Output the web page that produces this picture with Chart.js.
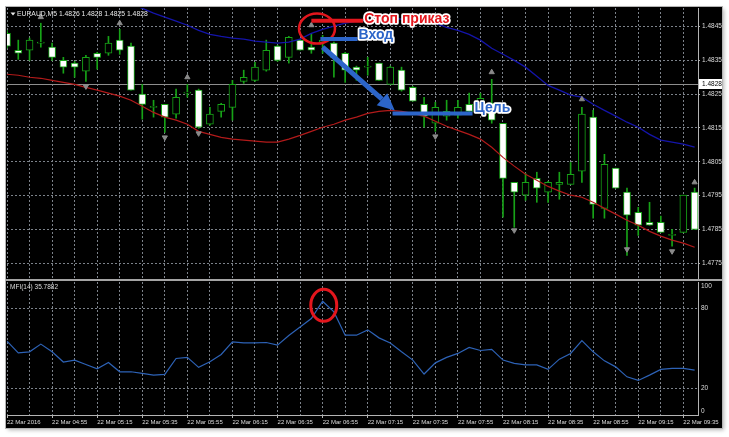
<!DOCTYPE html>
<html lang="ru">
  <head>
    <meta charset="UTF-8" />
    <title>EURAUD M5 + MFI</title>
    <script src="https://cdn.jsdelivr.net/npm/chart.js"></script>
    <style>
      body {
        margin: 0;
        width: 729px;
        height: 437px;
        background: #fff;
        position: relative;
        overflow: hidden;
      }
      .frame {
        position: absolute;
        left: 6px;
        top: 7px;
        width: 716px;
        height: 421px;
        background: #000;
        outline: 1px solid #b4b4b4;
        box-shadow: 2px 2px 4px rgba(0, 0, 0, 0.3);
      }
      .sep {
        position: absolute;
        left: 6px;
        top: 279px;
        width: 716px;
        height: 2px;
        background: #a4a4a4;
      }
      #priceChart {
        position: absolute;
        left: 7px;
        top: 8px;
      }
      #mfiChart {
        position: absolute;
        left: 7px;
        top: 282px;
      }
    </style>
  </head>
  <body>
    <div class="frame"></div>
    <div class="sep"></div>
    <canvas id="priceChart" width="715" height="271"></canvas>
    <canvas id="mfiChart" width="715" height="146"></canvas>

    <script>
      // bar 0 = 04:35, one bar every 5 minutes, a label every 4 bars
      const timeLabels = [
        "22 Mar 2016", "22 Mar 04:55", "22 Mar 05:15", "22 Mar 05:35",
        "22 Mar 05:55", "22 Mar 06:15", "22 Mar 06:35", "22 Mar 06:55",
        "22 Mar 07:15", "22 Mar 07:35", "22 Mar 07:55", "22 Mar 08:15",
        "22 Mar 08:35", "22 Mar 08:55", "22 Mar 09:15", "22 Mar 09:35",
      ];

      const opens = [
        1.4843, 1.4838, 1.4838, 1.48401, 1.48389, 1.4835, 1.48342, 1.48318, 1.48371, 1.48371,
        1.4841, 1.48392, 1.4825, 1.48211, 1.4822, 1.48191, 1.48253, 1.48262, 1.48161, 1.48199,
        1.48211, 1.48288, 1.48291, 1.48321, 1.48392, 1.48359, 1.4841, 1.48389, 1.48404, 1.48401,
        1.48371, 1.4833, 1.4833, 1.48342, 1.48279, 1.48321, 1.4827, 1.4822, 1.48164, 1.48185,
        1.48188, 1.4822, 1.48217, 1.48223, 1.48164, 1.47989, 1.47951, 1.48001, 1.4796, 1.47983,
        1.47983, 1.48022, 1.48182, 1.47912, 1.48031, 1.4796, 1.479, 1.47871, 1.47871, 1.47832,
        1.47841, 1.4796,
      ];
      const highs = [
        1.48439, 1.4841, 1.48416, 1.4846, 1.48401, 1.48359, 1.48347, 1.48365, 1.48374, 1.48421,
        1.48442, 1.48401, 1.48279, 1.48232, 1.4822, 1.48265, 1.48279, 1.48265, 1.48211, 1.48223,
        1.48291, 1.48321, 1.48344, 1.4841, 1.48395, 1.48421, 1.48413, 1.4843, 1.48424, 1.48404,
        1.48374, 1.48333, 1.48359, 1.48342, 1.48333, 1.4833, 1.48273, 1.48241, 1.48226, 1.48232,
        1.48232, 1.48253, 1.48253, 1.48294, 1.48164, 1.47989, 1.48016, 1.48019, 1.47992, 1.48019,
        1.48048, 1.48211, 1.48202, 1.48072, 1.48031, 1.47972, 1.47915, 1.4793, 1.47889, 1.4785,
        1.47951, 1.47972,
      ];
      const lows = [
        1.48386, 1.48353, 1.4835, 1.48389, 1.4835, 1.48312, 1.483, 1.48288, 1.48324, 1.48365,
        1.48368, 1.48262, 1.48176, 1.48182, 1.48137, 1.48179, 1.48241, 1.48149, 1.48158, 1.48182,
        1.48173, 1.48282, 1.48288, 1.48318, 1.48347, 1.48342, 1.4838, 1.48371, 1.48371, 1.483,
        1.48285, 1.48291, 1.48306, 1.48291, 1.48279, 1.48259, 1.48229, 1.48152, 1.4814, 1.48173,
        1.48179, 1.48196, 1.48211, 1.48164, 1.47886, 1.47856, 1.47936, 1.4793, 1.4793, 1.47939,
        1.47983, 1.47989, 1.47883, 1.47883, 1.47972, 1.47773, 1.47832, 1.47862, 1.47841, 1.478,
        1.47841, 1.4785,
      ];
      const closes = [
        1.48392, 1.48371, 1.4841, 1.48402, 1.48359, 1.4833, 1.4833, 1.48359, 1.48359, 1.48401,
        1.4838, 1.48262, 1.4822, 1.48212, 1.48182, 1.48241, 1.48254, 1.48152, 1.48191, 1.4822,
        1.48279, 1.483, 1.4833, 1.4838, 1.4835, 1.48418, 1.4838, 1.4838, 1.4841, 1.48359,
        1.48321, 1.48321, 1.48331, 1.48291, 1.4833, 1.48262, 1.48229, 1.48185, 1.48211, 1.48199,
        1.48211, 1.48199, 1.48238, 1.48173, 1.48001, 1.4796, 1.47989, 1.47972, 1.47989, 1.47989,
        1.48013, 1.48191, 1.47924, 1.48042, 1.47972, 1.47892, 1.47862, 1.47862, 1.47841, 1.47833,
        1.47951, 1.4785,
      ];

      // upper (blue) and lower (red) moving averages
      const maUpper = [
        null, null, null, null, null, null, null, null, null, null,
        1.48534, 1.48519, 1.48504, 1.4849, 1.48478, 1.48466, 1.48454, 1.48439, 1.48427, 1.48421,
        1.48416, 1.48413, 1.48407, 1.48404, 1.48401, 1.48404, 1.48413, 1.4843, 1.48442, 1.48451,
        1.4846, 1.48466, 1.48469, 1.48472, 1.48475, 1.48472, 1.48466, 1.48463, 1.4846, 1.48448,
        1.48439, 1.48427, 1.4841, 1.48386, 1.48368, 1.4835, 1.4833, 1.48303, 1.48276, 1.48262,
        1.48247, 1.48241, 1.4822, 1.48202, 1.48185, 1.48167, 1.48152, 1.48131, 1.48114, 1.48108,
        1.48102, 1.48093,
      ];
      const maLower = [
        1.48309, 1.48306, 1.483, 1.48297, 1.48291, 1.48285, 1.48279, 1.4827, 1.48262, 1.48253,
        1.48244, 1.48232, 1.48214, 1.48196, 1.48182, 1.48173, 1.48161, 1.4814, 1.48131, 1.48122,
        1.48117, 1.48114, 1.48111, 1.48108, 1.48108, 1.48117, 1.48128, 1.4814, 1.48152, 1.48161,
        1.48173, 1.48182, 1.48193, 1.48199, 1.48202, 1.48199, 1.48193, 1.48185, 1.4817, 1.48155,
        1.48143, 1.48131, 1.48117, 1.48093, 1.48063, 1.48037, 1.48013, 1.47995, 1.47977, 1.47963,
        1.47951, 1.47945, 1.4793, 1.47912, 1.47895, 1.47877, 1.47862, 1.47844, 1.4783, 1.47818,
        1.47809, 1.47797,
      ];

      const mfi = [
        55.5, 46.7, 47.5, 53.3, 47.5, 39.8, 41.3, 38.0, 34.7, 39.5,
        32.5, 32.5, 31.3, 30.0, 30.5, 42.5, 43.3, 35.8, 40.0, 45.5,
        55.0, 54.2, 54.2, 54.5, 52.5, 59.8, 66.2, 72.5, 85.5, 77.5,
        60.0, 60.0, 64.0, 58.0, 54.2, 47.5, 41.3, 30.8, 39.2, 43.3,
        46.3, 50.8, 48.5, 49.3, 41.3, 38.8, 37.7, 37.7, 34.3, 42.0,
        46.3, 56.0, 47.5, 40.7, 36.2, 28.7, 26.0, 30.0, 34.3, 35.0,
        35.0, 33.8,
      ];

      const fractalUpIdx = [3, 10, 16, 27, 43, 51, 61];
      const fractalUpVal = [1.48478, 1.4846, 1.483, 1.48454, 1.48315, 1.48235, 1.47989];
      const fractalDownIdx = [7, 14, 17, 38, 45, 55, 59];
      const fractalDownVal = [1.48273, 1.48122, 1.48134, 1.48125, 1.47847, 1.47791, 1.47785];

      const priceTicks = [1.4775, 1.4785, 1.4795, 1.4805, 1.4815, 1.4825, 1.4835, 1.4845];
      const mfiTicks = [0, 20, 80, 100];
      const priceMin = 1.47703;
      const priceMax = 1.48505;
      const xMax = 61.3;

      const symbol = "EURAUD,M5";
      const headerPrices = [1.4826, 1.4828, 1.4825, 1.4828];
      const lastPrice = 1.4828;
      const mfiTitle = "MFI(14) 35.7882";

      // trade annotations, in bar index / price units
      const stopLevel = 1.48467, stopFrom = 27.0, stopTo = 31.6;
      const entryLevel = 1.48413, entryFrom = 27.8, entryTo = 31.1;
      const targetLevel = 1.48193, targetFrom = 34.2, targetTo = 41.3;
      const arrowFrom = [28.0, 1.48389];
      const arrowTo = [34.4, 1.48202];
      const stopMark = [27.5, 1.48444];
      const mfiMark = [28.1, 82.5];

      const green = "#17a317";
      const gridColor = "#7c828a";
      const axisColor = "#b4b4b4";
      const labelColor = "#dcdcdc";
      const fontFamily = '"Liberation Sans", Arial, sans-serif';
      const red = "#e3161d";
      const blue = "#2c65c9";

      Chart.defaults.font.family = fontFamily;
      Chart.defaults.font.size = 6.5;
      Chart.defaults.color = labelColor;

      const idx = opens.map((_, i) => i);
      const gridIdx = [];
      for (let i = 0; i <= 60; i += 2) gridIdx.push(i);

      function timeAxis(showLabels) {
        return {
          type: "linear",
          min: 0,
          max: xMax,
          offset: false,
          afterBuildTicks: (s) => {
            s.ticks = gridIdx.map((v) => ({ value: v }));
          },
          ticks: {
            display: showLabels,
            autoSkip: false,
            maxRotation: 0,
            minRotation: 0,
            align: "start",
            padding: 1,
            color: labelColor,
            font: { size: 6 },
            callback: (v) => (v % 4 === 0 ? timeLabels[v / 4] : ""),
          },
          grid: {
            color: gridColor,
            offset: false,
            drawTicks: showLabels,
            tickLength: 3,
            tickColor: (c) => (c.tick && c.tick.value % 4 === 0 ? axisColor : "transparent"),
          },
          border: { display: showLabels, color: axisColor, dash: [2, 2] },
          afterFit: (s) => {
            s.paddingLeft = 0;
            s.paddingRight = 0;
            s.height = showLabels ? 13 : 0;
          },
        };
      }

      function sideAxis(extra) {
        return Object.assign(
          {
            type: "linear",
            position: "right",
            border: { display: true, color: axisColor, dash: [2, 2] },
            afterFit: (s) => {
              s.width = 24;
              s.paddingTop = 0;
              s.paddingBottom = 0;
            },
          },
          extra
        );
      }

      function textWithHalo(ctx, text, x, y, color) {
        ctx.font = "bold 14px " + fontFamily;
        ctx.textBaseline = "middle";
        ctx.lineJoin = "round";
        ctx.lineWidth = 3.5;
        ctx.strokeStyle = "#fff";
        ctx.strokeText(text, x, y);
        ctx.fillStyle = color;
        ctx.fillText(text, x, y);
      }

      function level(ctx, x1, x2, y, color) {
        ctx.strokeStyle = color;
        ctx.lineWidth = 4;
        ctx.beginPath();
        ctx.moveTo(x1, y);
        ctx.lineTo(x2, y);
        ctx.stroke();
      }

      const priceDecor = {
        id: "priceDecor",
        beforeDatasetsDraw(chart) {
          const { ctx, chartArea: a, scales } = chart;
          const py = Math.round(scales.y.getPixelForValue(lastPrice)) + 0.5;
          ctx.save();
          ctx.strokeStyle = "#8e8e8e";
          ctx.lineWidth = 1;
          ctx.beginPath();
          ctx.moveTo(a.left, py);
          ctx.lineTo(a.right, py);
          ctx.stroke();
          ctx.restore();
        },
        afterDraw(chart) {
          const { ctx, chartArea: a, scales } = chart;
          const X = (v) => scales.x.getPixelForValue(v);
          const Y = (v) => scales.y.getPixelForValue(v);
          ctx.save();

          // last price tag on the axis
          const py = Math.round(Y(lastPrice));
          ctx.fillStyle = "#fff";
          ctx.fillRect(a.right + 1, py - 5, 24, 10);
          ctx.fillStyle = "#000";
          ctx.font = "6.5px " + fontFamily;
          ctx.textBaseline = "middle";
          ctx.fillText(lastPrice.toFixed(4), a.right + 4, py + 0.5);

          // header
          ctx.fillStyle = "#e8e8e8";
          ctx.beginPath();
          ctx.moveTo(3.5, 4.5);
          ctx.lineTo(8.5, 4.5);
          ctx.lineTo(6, 7.5);
          ctx.fill();
          ctx.font = "6.8px " + fontFamily;
          ctx.fillText(symbol + " " + headerPrices.map((v) => v.toFixed(4)).join(" "), 10, 6.5);

          // stop circle
          ctx.strokeStyle = red;
          ctx.lineWidth = 2.5;
          ctx.beginPath();
          ctx.ellipse(X(stopMark[0]), Y(stopMark[1]), 18, 15, 0, 0, Math.PI * 2);
          ctx.stroke();

          // levels and labels
          level(ctx, X(stopFrom), X(stopTo), Y(stopLevel), red);
          level(ctx, X(entryFrom), X(entryTo), Y(entryLevel), blue);
          level(ctx, X(targetFrom), X(targetTo), Y(targetLevel), blue);
          textWithHalo(ctx, "Стоп приказ", X(stopTo) + 1, Y(stopLevel) - 1.5, red);
          textWithHalo(ctx, "Вход", X(entryTo) + 1, Y(entryLevel) - 4, blue);
          textWithHalo(ctx, "Цель", X(targetTo) + 2, Y(targetLevel) - 5, blue);

          // arrow entry -> target
          const x1 = X(arrowFrom[0]), y1 = Y(arrowFrom[1]);
          const x2 = X(arrowTo[0]), y2 = Y(arrowTo[1]);
          const ang = Math.atan2(y2 - y1, x2 - x1);
          const head = 17, hw = 8;
          const bx = x2 - head * Math.cos(ang), by = y2 - head * Math.sin(ang);
          ctx.strokeStyle = blue;
          ctx.lineWidth = 5;
          ctx.beginPath();
          ctx.moveTo(x1, y1);
          ctx.lineTo(bx, by);
          ctx.stroke();
          ctx.fillStyle = blue;
          ctx.beginPath();
          ctx.moveTo(x2, y2);
          ctx.lineTo(bx + hw * Math.sin(ang), by - hw * Math.cos(ang));
          ctx.lineTo(bx - hw * Math.sin(ang), by + hw * Math.cos(ang));
          ctx.closePath();
          ctx.fill();

          ctx.restore();
        },
      };

      const mfiDecor = {
        id: "mfiDecor",
        afterDraw(chart) {
          const { ctx, chartArea: a, scales } = chart;
          ctx.save();
          ctx.font = "6.5px " + fontFamily;
          ctx.fillStyle = labelColor;
          ctx.textBaseline = "middle";
          ctx.fillText(mfiTitle, 3, 5);
          mfiTicks.forEach((v) => {
            const py = Math.min(Math.max(scales.y.getPixelForValue(v), a.top + 4), a.bottom - 4);
            ctx.fillText(String(v), a.right + 3, py);
          });
          ctx.strokeStyle = red;
          ctx.lineWidth = 3;
          ctx.beginPath();
          ctx.ellipse(scales.x.getPixelForValue(mfiMark[0]), scales.y.getPixelForValue(mfiMark[1]), 13, 16, 0, 0, Math.PI * 2);
          ctx.stroke();
          ctx.restore();
        },
      };

      new Chart(document.getElementById("priceChart"), {
        type: "line",
        data: {
          datasets: [
            {
              label: "Fractals up",
              data: fractalUpIdx.map((i, k) => ({ x: i, y: fractalUpVal[k] })),
              showLine: false,
              pointStyle: "triangle",
              pointRadius: 3,
              pointBackgroundColor: "#8a8a8a",
              pointBorderColor: "#8a8a8a",
              order: 0,
            },
            {
              label: "Fractals down",
              data: fractalDownIdx.map((i, k) => ({ x: i, y: fractalDownVal[k] })),
              showLine: false,
              pointStyle: "triangle",
              pointRotation: 180,
              pointRadius: 3,
              pointBackgroundColor: "#8a8a8a",
              pointBorderColor: "#8a8a8a",
              order: 0,
            },
            {
              label: "MA upper",
              data: idx.map((i) => ({ x: i, y: maUpper[i] })),
              borderColor: "#1414aa",
              borderWidth: 1.3,
              pointRadius: 0,
              order: 1,
            },
            {
              label: "MA lower",
              data: idx.map((i) => ({ x: i, y: maLower[i] })),
              borderColor: "#b21a1a",
              borderWidth: 1.2,
              pointRadius: 0,
              order: 1,
            },
            {
              type: "bar",
              label: "Bodies",
              data: idx.map((i) => ({ x: i, y: [opens[i], closes[i]] })),
              backgroundColor: (c) => (closes[c.dataIndex] >= opens[c.dataIndex] ? "#000" : "#fff"),
              borderColor: green,
              borderWidth: 1,
              borderSkipped: false,
              barThickness: 7,
              minBarLength: 1,
              grouped: false,
              order: 2,
            },
            {
              type: "bar",
              label: "Wicks",
              data: idx.map((i) => ({ x: i, y: [lows[i], highs[i]] })),
              backgroundColor: green,
              borderWidth: 0,
              barThickness: 1,
              grouped: false,
              order: 3,
            },
          ],
        },
        options: {
          responsive: false,
          devicePixelRatio: 1,
          animation: false,
          events: [],
          layout: { padding: 0, autoPadding: false },
          plugins: { legend: { display: false }, tooltip: { enabled: false } },
          scales: {
            x: timeAxis(false),
            y: sideAxis({
              min: priceMin,
              max: priceMax,
              afterBuildTicks: (s) => {
                s.ticks = priceTicks.map((v) => ({ value: v }));
              },
              ticks: {
                autoSkip: false,
                padding: 2,
                color: labelColor,
                callback: (v) => v.toFixed(4),
              },
              grid: { color: gridColor, tickLength: 2, tickColor: axisColor },
            }),
          },
        },
        plugins: [priceDecor],
      });

      new Chart(document.getElementById("mfiChart"), {
        type: "line",
        data: {
          datasets: [
            {
              label: "MFI(14)",
              data: idx.map((i) => ({ x: i, y: mfi[i] })),
              borderColor: "#2d62b6",
              borderWidth: 1.2,
              pointRadius: 0,
            },
          ],
        },
        options: {
          responsive: false,
          devicePixelRatio: 1,
          animation: false,
          events: [],
          layout: { padding: 0, autoPadding: false },
          plugins: { legend: { display: false }, tooltip: { enabled: false } },
          scales: {
            x: timeAxis(true),
            y: sideAxis({
              min: 0,
              max: 100,
              afterBuildTicks: (s) => {
                s.ticks = [{ value: 20 }, { value: 80 }];
              },
              ticks: { display: false },
              grid: { color: gridColor, drawTicks: false },
            }),
          },
        },
        plugins: [mfiDecor],
      });
    </script>
  </body>
</html>
